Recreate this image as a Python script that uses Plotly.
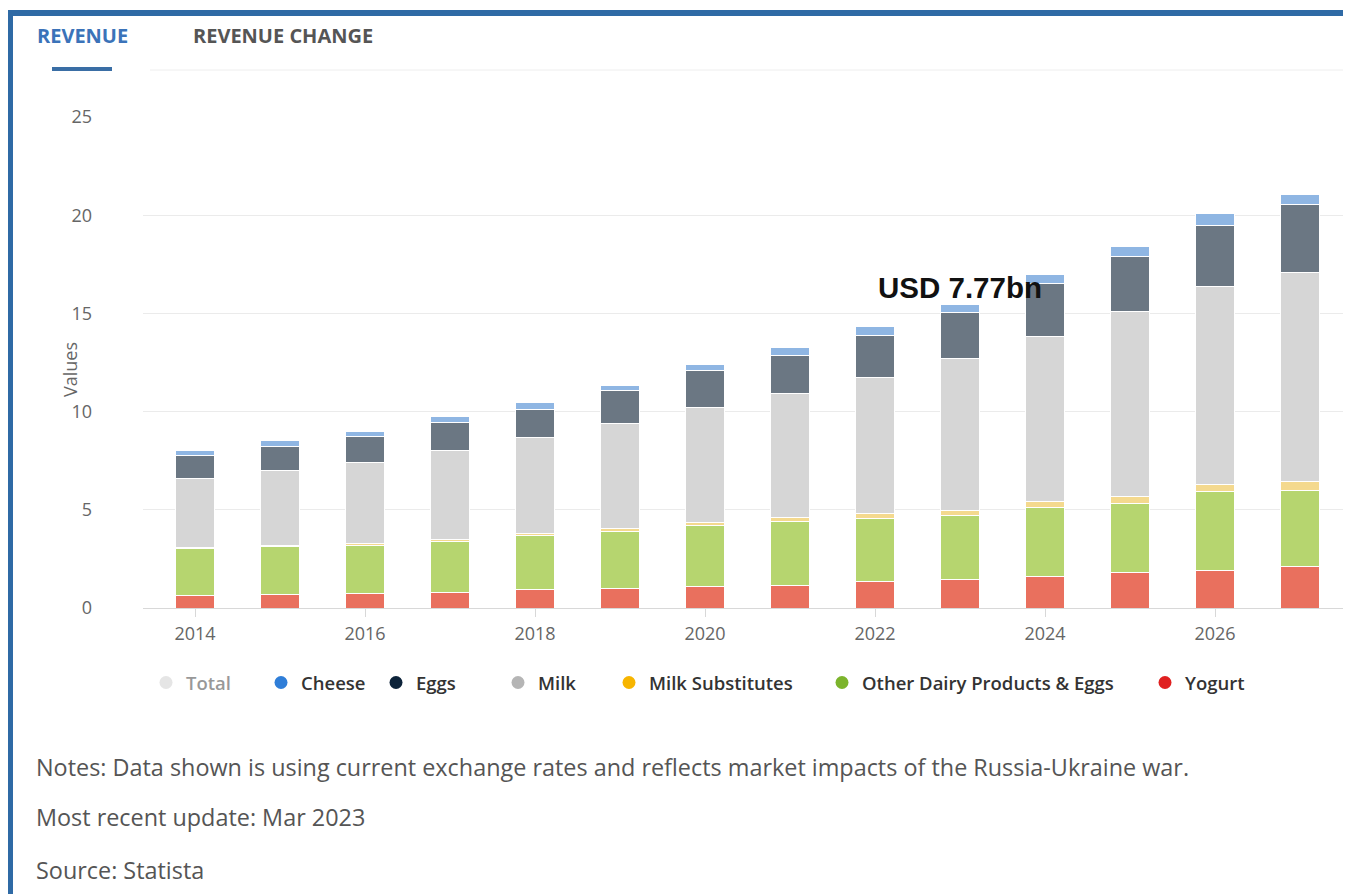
import plotly.graph_objects as go

years = list(range(2014, 2028))
yogurt = [0.62, 0.70, 0.74, 0.81, 0.92, 1.00, 1.09, 1.17, 1.34, 1.43, 1.60, 1.80, 1.93, 2.10]
milk_subs = [0.08, 0.09, 0.10, 0.11, 0.13, 0.15, 0.17, 0.20, 0.22, 0.25, 0.30, 0.33, 0.38, 0.45]
other_dairy = [2.40, 2.41, 2.46, 2.58, 2.75, 2.90, 3.09, 3.23, 3.24, 3.27, 3.51, 3.54, 4.00, 3.88]
milk = [3.50, 3.80, 4.10, 4.50, 4.86, 5.35, 5.87, 6.30, 6.95, 7.77, 8.41, 9.42, 10.05, 10.64]
eggs = [1.16, 1.21, 1.31, 1.42, 1.47, 1.67, 1.86, 1.98, 2.15, 2.32, 2.71, 2.80, 3.14, 3.45]
cheese = [0.28, 0.31, 0.27, 0.32, 0.32, 0.28, 0.33, 0.37, 0.42, 0.39, 0.43, 0.51, 0.60, 0.51]

x_ticks = [2014, 2016, 2018, 2020, 2022, 2024, 2026]
y_ticks = [0, 5, 10, 15, 20, 25]

# stacking order bottom -> top
series = [
    ("Yogurt", yogurt, "#e9705e"),
    ("Other Dairy Products & Eggs", other_dairy, "#b6d56f"),
    ("Milk Substitutes", milk_subs, "#f4d98e"),
    ("Milk", milk, "#d6d6d6"),
    ("Eggs", eggs, "#6b7783"),
    ("Cheese", cheese, "#8fb6e3"),
]
legend_items = [
    ("Total", "#cccccc"),
    ("Cheese", "#2f7ed8"),
    ("Eggs", "#0d233a"),
    ("Milk", "#b5b5b5"),
    ("Milk Substitutes", "#f7b500"),
    ("Other Dairy Products & Eggs", "#7cb42c"),
    ("Yogurt", "#e02020"),
]
legend_marker_x = [167, 282, 397, 519, 630, 843, 1166]  # page px of each legend marker

FONT = "Open Sans"
OFF = 8  # body margin of the html page
W, H = 1351 - OFF, 894 - OFF
L, R, T, B = 143 - OFF, 0, 117 - OFF, 286
pw, ph = W - L - R, H - T - B


def px(xpage):
    return (xpage - OFF - L) / pw


def py(ypage):
    return (H - B - (ypage - OFF)) / ph


fig = go.Figure()
for name, vals, col in series:
    fig.add_trace(go.Bar(x=years, y=vals, name=name,
                         marker=dict(color=col, line=dict(color="white", width=1)),
                         width=0.45, showlegend=False))

legend_layouts = {}
for i, ((name, col), mx) in enumerate(zip(legend_items, legend_marker_x)):
    key = "legend" if i == 0 else f"legend{i + 1}"
    fig.add_trace(go.Scatter(x=[None], y=[None], mode="markers", name=name, legend=key,
                             marker=dict(size=13, color=col),
                             visible=("legendonly" if name == "Total" else True)))
    legend_layouts[key] = dict(orientation="h", x=px(mx - 21), y=py(683), xanchor="left", yanchor="middle",
                               font=dict(family=FONT, size=18.5, color="#333333", weight=600),
                               bgcolor="rgba(0,0,0,0)", itemclick=False, itemdoubleclick=False)

fig.update_layout(
    width=W, height=H,
    margin=dict(l=L, r=R, t=T, b=B),
    paper_bgcolor="white", plot_bgcolor="white",
    barmode="stack", bargap=0.5,
    font=dict(family=FONT, color="#666666", size=13),
    xaxis=dict(range=[2013.388, 2027.6], tickvals=x_ticks, ticktext=[str(v) for v in x_ticks],
               showgrid=False, zeroline=False, showline=True, linecolor="#d8d8d8", linewidth=1,
               ticks="outside", ticklen=8, tickcolor="#d8d8d8", ticklabelstandoff=1,
               tickfont=dict(size=18, color="#666666")),
    yaxis=dict(range=[0, 25], tickvals=y_ticks, showgrid=True, gridcolor="#ebebeb", gridwidth=1,
               zeroline=False, showline=False, ticks="", ticklabelstandoff=50,
               tickfont=dict(size=18, color="#666666")),
    showlegend=True,
    **legend_layouts,
)

annotations = [
    dict(text="Values", x=px(70), y=py(370), textangle=-90, font=dict(size=18, color="#666666")),
    dict(text="<b>REVENUE</b>", x=px(35), y=py(35), xanchor="left", font=dict(size=20, color="#3b73b9")),
    dict(text="<b>REVENUE CHANGE</b>", x=px(191), y=py(35), xanchor="left", font=dict(size=20, color="#555555")),
    dict(text="Notes: Data shown is using current exchange rates and reflects market impacts of the Russia-Ukraine war.",
         x=px(34), y=py(767), xanchor="left", font=dict(size=23.4, color="#555555")),
    dict(text="Most recent update: Mar 2023", x=px(34), y=py(817), xanchor="left",
         font=dict(size=23.4, color="#555555")),
    dict(text="Source: Statista", x=px(34), y=py(870), xanchor="left", font=dict(size=23.4, color="#555555")),
]
for a in annotations:
    a.update(xref="paper", yref="paper", showarrow=False, yanchor="middle")
    a.setdefault("xanchor", "center")
    fig.add_annotation(**a)

fig.add_annotation(text="<b>USD 7.77bn</b>", x=2023, y=16.3, xref="x", yref="y", showarrow=False,
                   font=dict(family="Liberation Sans", size=29.5, color="#111111"))

shapes = [
    dict(type="rect", x0=px(8), x1=px(13), y0=py(10), y1=py(894), fillcolor="#2f6aa5", line_width=0),
    dict(type="rect", x0=px(8), x1=px(1351), y0=py(10), y1=py(16), fillcolor="#2f6aa5", line_width=0),
    dict(type="rect", x0=px(52), x1=px(112), y0=py(67), y1=py(71), fillcolor="#3a6ea5", line_width=0),
    dict(type="line", x0=px(150), x1=px(1351), y0=py(70), y1=py(70), line=dict(color="#eeeeee", width=1)),
]
for s in shapes:
    s.update(xref="paper", yref="paper", layer="above")
    fig.add_shape(**s)

fig.write_html("out.html")
